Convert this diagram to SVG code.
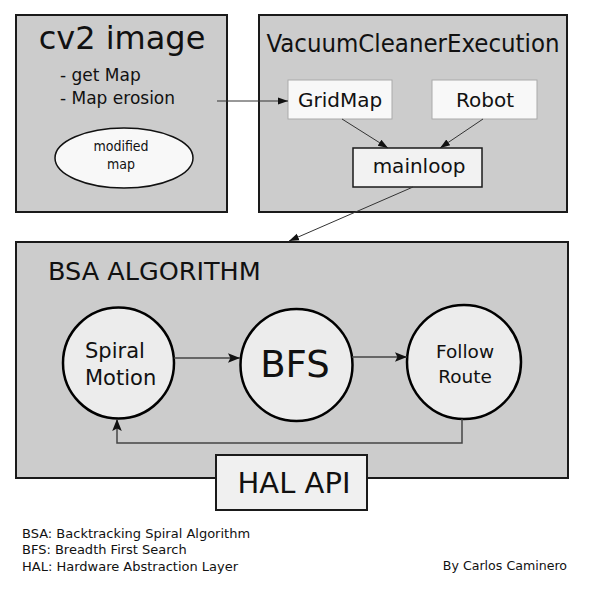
<svg xmlns="http://www.w3.org/2000/svg" width="594" height="595" viewBox="0 0 594 595">
<defs>
<style>
.box{fill:#cccccc;stroke:#1a1a1a;stroke-width:2}
.wb{fill:#f8f8f8;stroke:#aaaaaa;stroke-width:1}
.circ{fill:#ececec;stroke:#000;stroke-width:2.5}
.t{font-family:"DejaVu Sans",sans-serif;fill:#111}
.tc{font-family:"DejaVu Sans Condensed","DejaVu Sans",sans-serif;font-stretch:condensed;fill:#111}
.c{stroke:#333;stroke-width:1;fill:none}
.c2{stroke:#444;stroke-width:1.5;fill:none}
</style>
<marker id="ah" viewBox="0 0 10 10" refX="10" refY="5" markerWidth="10" markerHeight="10" markerUnits="userSpaceOnUse" orient="auto">
<path d="M0,1.5 L10,5 L0,8.5 Z" fill="#111"/>
</marker>
<marker id="ah2" viewBox="0 0 10 10" refX="10" refY="5" markerWidth="12" markerHeight="12" markerUnits="userSpaceOnUse" orient="auto">
<path d="M0,1 L10,5 L0,9 L2,5 Z" fill="#111"/>
</marker>
</defs>
<rect width="594" height="595" fill="#fff"/>

<g id="cv2">
<rect class="box" x="16" y="15" width="211" height="197"/>
<text class="t" x="122" y="49" font-size="32" text-anchor="middle">cv2 image</text>
<text class="t" x="60" y="81" font-size="17">- get Map</text>
<text class="t" x="60" y="104" font-size="17">- Map erosion</text>
<ellipse cx="124" cy="158" rx="69" ry="30" fill="#f8f8f8" stroke="#111" stroke-width="1.5"/>
<text class="tc" x="121" y="151" font-size="14" text-anchor="middle">modified</text>
<text class="tc" x="121" y="169" font-size="14" text-anchor="middle">map</text>
</g>

<g id="vce">
<rect class="box" x="259" y="15" width="308" height="197"/>
<text class="tc" x="413" y="52" font-size="25.5" text-anchor="middle">VacuumCleanerExecution</text>
</g>
<g id="gridmap">
<rect class="wb" x="288" y="80" width="104" height="39"/>
<text class="t" x="340" y="107" font-size="20" text-anchor="middle">GridMap</text>
</g>
<g id="robot">
<rect class="wb" x="432" y="80" width="105" height="39"/>
<text class="t" x="485" y="107" font-size="20" text-anchor="middle">Robot</text>
</g>
<g id="mainloop">
<rect x="353" y="148" width="129" height="39" fill="#f2f2f2" stroke="#1a1a1a" stroke-width="1.5"/>
<text class="t" x="419" y="173" font-size="20" text-anchor="middle">mainloop</text>
</g>

<g id="bsa">
<rect class="box" x="16" y="242" width="552" height="236"/>
<text class="t" x="48" y="280" font-size="25.5">BSA ALGORITHM</text>
</g>
<g id="spiral">
<circle class="circ" cx="118.5" cy="363" r="55.5"/>
<text class="t" x="85" y="358" font-size="21">Spiral</text>
<text class="t" x="85" y="385" font-size="21">Motion</text>
</g>
<g id="bfs">
<circle class="circ" cx="296.5" cy="365" r="56"/>
<text class="t" x="295" y="377" font-size="37" text-anchor="middle">BFS</text>
</g>
<g id="follow">
<circle class="circ" cx="464" cy="362" r="57"/>
<text class="t" x="465" y="358" font-size="18.5" text-anchor="middle">Follow</text>
<text class="t" x="465" y="383" font-size="18.5" text-anchor="middle">Route</text>
</g>
<g id="hal">
<rect x="216" y="455" width="151" height="55" fill="#f0f0f0" stroke="#1a1a1a" stroke-width="2"/>
<text class="t" x="294" y="493" font-size="29" text-anchor="middle">HAL API</text>
</g>

<g id="connectors">
<line class="c" x1="217" y1="101" x2="288" y2="101" marker-end="url(#ah)"/>
<line class="c" x1="342" y1="119" x2="388" y2="148" marker-end="url(#ah)"/>
<line class="c" x1="483" y1="119" x2="440" y2="148" marker-end="url(#ah)"/>
<line class="c" x1="413" y1="187" x2="289" y2="241" marker-end="url(#ah)"/>
<line class="c2" x1="174" y1="358" x2="240" y2="358" marker-end="url(#ah2)"/>
<line class="c2" x1="352" y1="357" x2="407" y2="357" marker-end="url(#ah2)"/>
<polyline class="c2" points="462,419 462,443 117,443 117,419" marker-end="url(#ah2)"/>
</g>

<g id="legend">
<text class="t" x="22" y="538" font-size="13">BSA: Backtracking Spiral Algorithm</text>
<text class="t" x="22" y="554" font-size="13">BFS: Breadth First Search</text>
<text class="t" x="22" y="571" font-size="13">HAL: Hardware Abstraction Layer</text>
<text class="t" x="567" y="570" font-size="12.6" text-anchor="end">By Carlos Caminero</text>
</g>
</svg>
